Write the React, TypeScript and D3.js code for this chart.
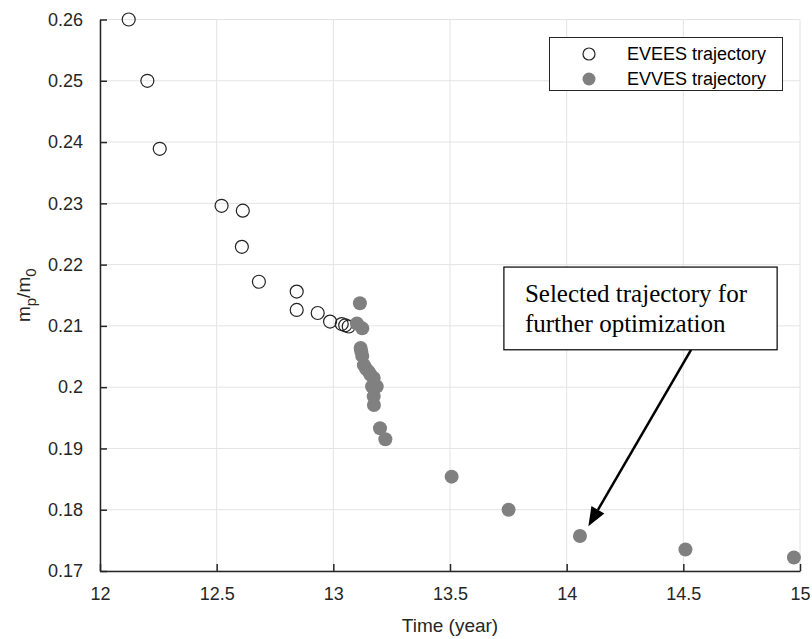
import React, { useEffect, useRef } from 'react';
import * as d3 from 'd3';

// EVEES trajectory (open circles)
const eveesTime = [12.123, 12.203, 12.256, 12.521, 12.612, 12.608, 12.681, 12.843, 12.843, 12.933, 12.986, 13.036, 13.051, 13.066];
const eveesMass = [0.26, 0.25, 0.2389, 0.2296, 0.2288, 0.2229, 0.2172, 0.2156, 0.2126, 0.2121, 0.2107, 0.2103, 0.2101, 0.2099];

// EVVES trajectory (filled dots)
const evvesTime = [13.114, 13.101, 13.124, 13.117, 13.12, 13.124, 13.131, 13.14, 13.152, 13.16, 13.173, 13.166, 13.186, 13.173, 13.174, 13.2, 13.223, 13.507, 13.751, 14.057, 14.509, 14.974];
const evvesMass = [0.2137, 0.2104, 0.2096, 0.2064, 0.2058, 0.2051, 0.2036, 0.203, 0.2025, 0.202, 0.2015, 0.2001, 0.2001, 0.1985, 0.1971, 0.1933, 0.1915, 0.1854, 0.18, 0.1757, 0.1735, 0.1722];

const xTicks = [12, 12.5, 13, 13.5, 14, 14.5, 15];
const yTicks = [0.17, 0.18, 0.19, 0.2, 0.21, 0.22, 0.23, 0.24, 0.25, 0.26];

const legendLabels = ['EVEES trajectory', 'EVVES trajectory'];
const noteLines = ['Selected trajectory for', 'further optimization'];

const width = 812;
const height = 639;
const margin = { top: 19.5, right: 12, bottom: 68, left: 100 };

export default function App() {
  const svgRef = useRef<SVGSVGElement>(null);

  useEffect(() => {
    const svg = d3.select(svgRef.current);
    svg.selectAll('*').remove();

    const x = d3.scaleLinear().domain([12, 15]).range([margin.left, width - margin.right]);
    const y = d3.scaleLinear().domain([0.17, 0.26]).range([height - margin.bottom, margin.top]);
    const font = 'Liberation Sans, Arial, sans-serif';
    const axisColor = '#262626';

    // grid
    const grid = svg.append('g').attr('stroke', '#e3e3e3').attr('stroke-width', 1);
    xTicks.forEach((t) => {
      grid.append('line').attr('x1', x(t)).attr('x2', x(t)).attr('y1', y(0.17)).attr('y2', y(0.26));
    });
    yTicks.forEach((t) => {
      grid.append('line').attr('y1', y(t)).attr('y2', y(t)).attr('x1', x(12)).attr('x2', x(15));
    });

    // axes
    const xAxis = svg
      .append('g')
      .attr('transform', `translate(0,${y(0.17)})`)
      .call(d3.axisBottom(x).tickValues(xTicks).tickSizeInner(-7).tickSizeOuter(0).tickPadding(16).tickFormat((d) => String(d)));
    const yAxis = svg
      .append('g')
      .attr('transform', `translate(${x(12)},0)`)
      .call(d3.axisLeft(y).tickValues(yTicks).tickSizeInner(-7).tickSizeOuter(0).tickPadding(17).tickFormat((d) => String(+d)));
    [xAxis, yAxis].forEach((g) => {
      g.select('.domain').attr('stroke', axisColor).attr('stroke-width', 1.5);
      g.selectAll('.tick line').attr('stroke', axisColor).attr('stroke-width', 1.5);
      g.selectAll('.tick text').attr('fill', axisColor).attr('font-size', 18).attr('font-family', font);
    });

    // axis labels
    svg
      .append('text')
      .attr('x', (x(12) + x(15)) / 2)
      .attr('y', 632)
      .attr('text-anchor', 'middle')
      .attr('font-family', font)
      .attr('font-size', 19)
      .attr('fill', axisColor)
      .text('Time (year)');

    const yl = svg
      .append('text')
      .attr('transform', `translate(30,${(y(0.17) + y(0.26)) / 2}) rotate(-90)`)
      .attr('text-anchor', 'middle')
      .attr('font-family', font)
      .attr('font-size', 19)
      .attr('fill', axisColor);
    yl.append('tspan').text('m');
    yl.append('tspan').attr('dy', 6).attr('font-size', 15).text('p');
    yl.append('tspan').attr('dy', -6).text('/m');
    yl.append('tspan').attr('dy', 6).attr('font-size', 15).text('0');

    // markers
    svg
      .append('g')
      .selectAll('circle')
      .data(eveesTime)
      .join('circle')
      .attr('cx', (d) => x(d))
      .attr('cy', (_, i) => y(eveesMass[i]))
      .attr('r', 6.5)
      .attr('fill', 'none')
      .attr('stroke', '#222')
      .attr('stroke-width', 1.2);

    svg
      .append('g')
      .selectAll('circle')
      .data(evvesTime)
      .join('circle')
      .attr('cx', (d) => x(d))
      .attr('cy', (_, i) => y(evvesMass[i]))
      .attr('r', 7)
      .attr('fill', '#808080');

    // legend
    const lg = svg.append('g');
    lg.append('rect')
      .attr('x', 549.5)
      .attr('y', 37.5)
      .attr('width', 233)
      .attr('height', 53)
      .attr('fill', '#fff')
      .attr('stroke', axisColor)
      .attr('stroke-width', 1);
    legendLabels.forEach((label, i) => {
      const cy = 54 + i * 25;
      if (i === 0) {
        lg.append('circle').attr('cx', 589).attr('cy', cy).attr('r', 6).attr('fill', 'none').attr('stroke', '#222').attr('stroke-width', 1.2);
      } else {
        lg.append('circle').attr('cx', 589).attr('cy', cy).attr('r', 6.5).attr('fill', '#808080');
      }
      lg.append('text')
        .attr('x', 627)
        .attr('y', cy)
        .attr('dy', '0.35em')
        .attr('font-family', font)
        .attr('font-size', 18)
        .attr('fill', '#000')
        .text(label);
    });

    // annotation
    const tip = { t: 14.093, m: 0.1773 };
    const tail = { t: 14.533, m: 0.2061 };
    const x1 = x(tail.t), y1 = y(tail.m), x2 = x(tip.t), y2 = y(tip.m);
    const ang = Math.atan2(y2 - y1, x2 - x1);
    const headLen = 19, headW = 7.5;
    const bx = x2 - headLen * Math.cos(ang), by = y2 - headLen * Math.sin(ang);
    svg.append('line')
      .attr('x1', x1).attr('y1', y1).attr('x2', bx).attr('y2', by)
      .attr('stroke', '#000').attr('stroke-width', 2.5);
    svg.append('path')
      .attr('d', `M${x2},${y2}L${bx - headW * Math.sin(ang)},${by + headW * Math.cos(ang)}L${bx + headW * Math.sin(ang)},${by - headW * Math.cos(ang)}Z`)
      .attr('fill', '#000');

    const bx0 = x(13.731), bx1 = x(14.902), by0 = y(0.2196), by1 = y(0.2061);
    svg.append('rect')
      .attr('x', bx0).attr('y', by0).attr('width', bx1 - bx0).attr('height', by1 - by0)
      .attr('fill', '#fff').attr('stroke', '#000').attr('stroke-width', 1.2);
    noteLines.forEach((line, i) => {
      svg.append('text')
        .attr('x', bx0 + 21)
        .attr('y', by0 + 35 + i * 30)
        .attr('font-family', 'Liberation Serif, Times New Roman, serif')
        .attr('font-size', 25)
        .attr('fill', '#000')
        .text(line);
    });
  }, []);

  return (
    <svg
      ref={svgRef}
      width={width}
      height={height}
      viewBox={`0 0 ${width} ${height}`}
      style={{ position: 'absolute', left: 0, top: 0, background: '#fff' }}
    />
  );
}
